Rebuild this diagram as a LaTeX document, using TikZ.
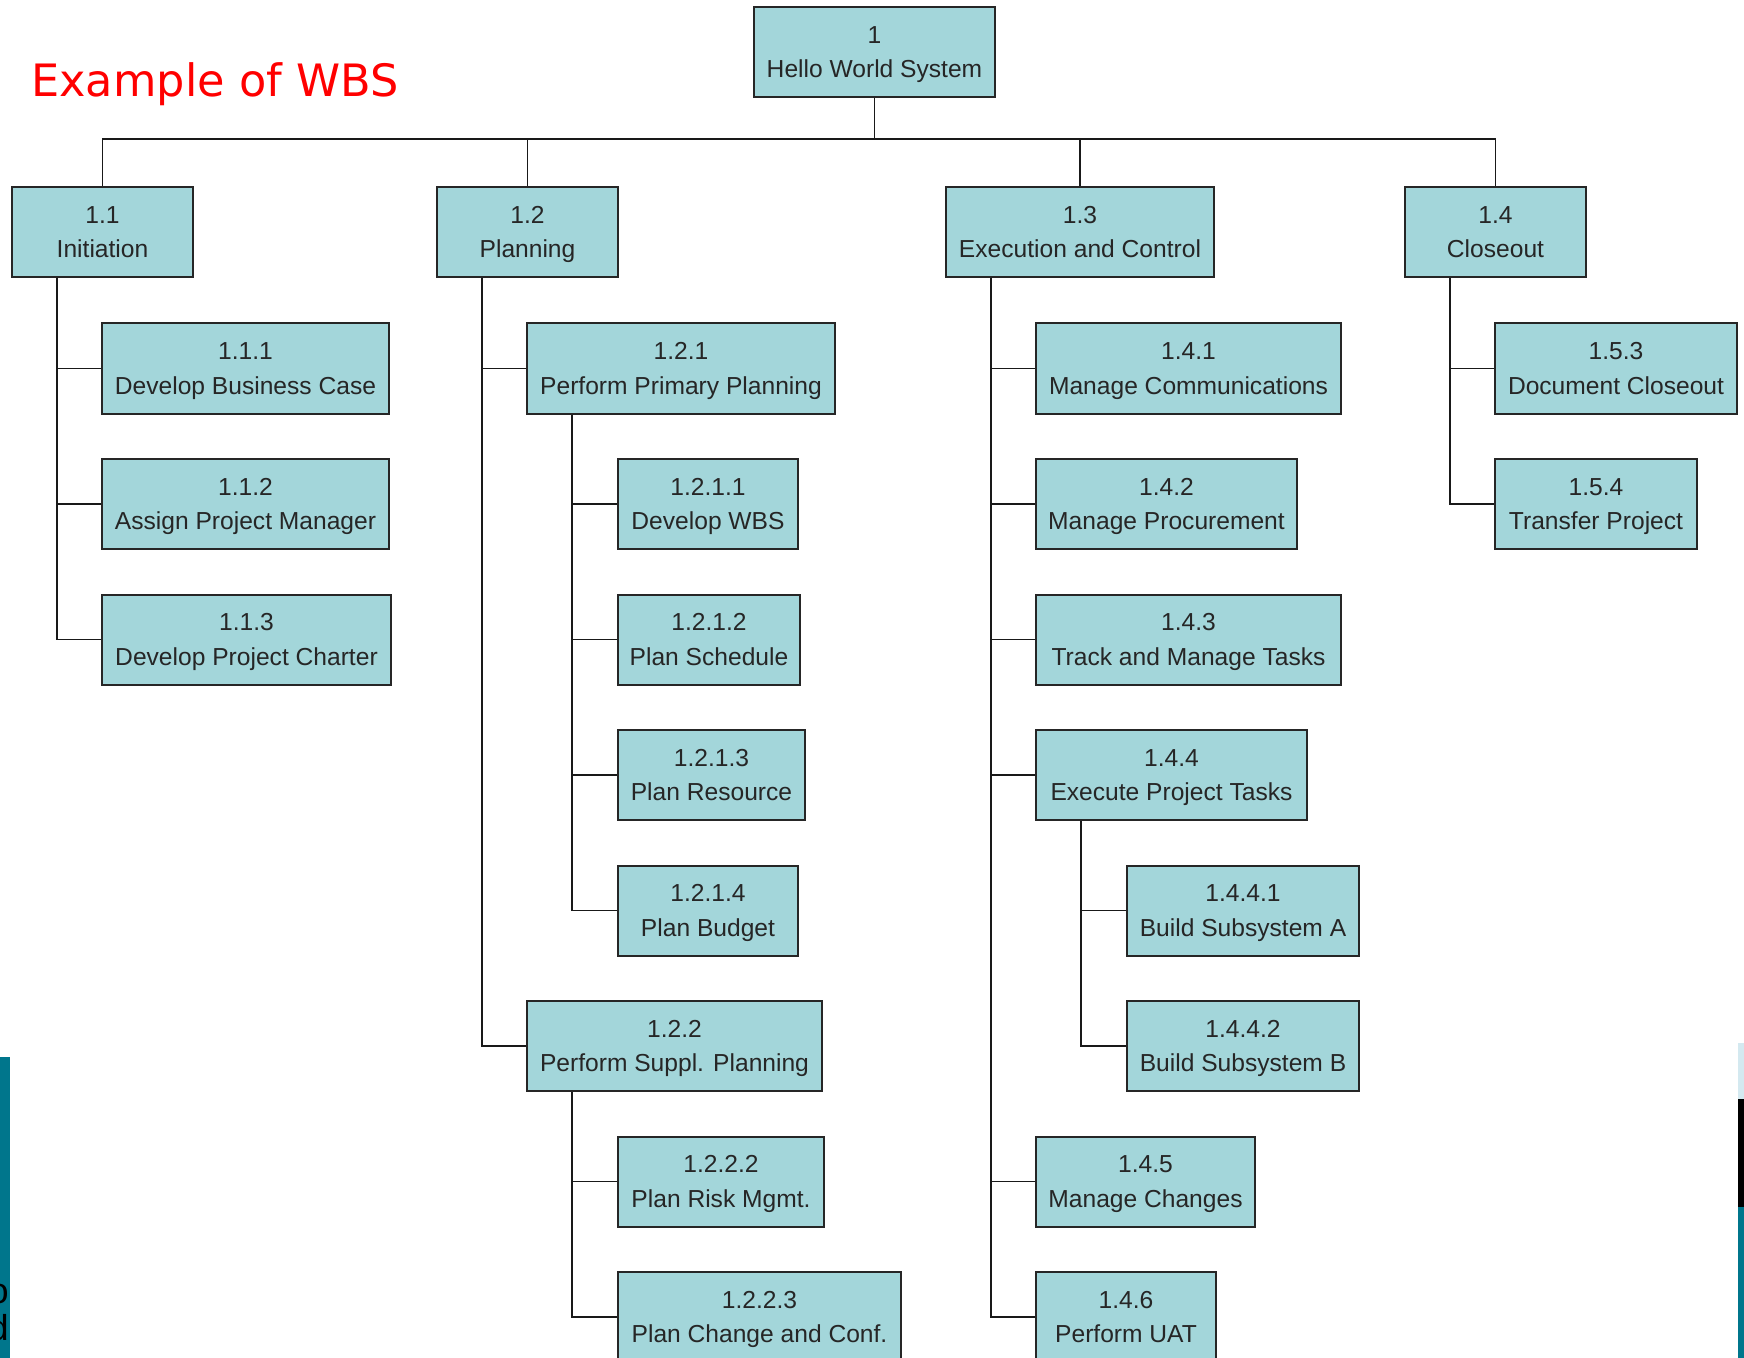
\documentclass[tikz,border=0pt]{standalone}
\usepackage{fontspec}
\setmainfont{Liberation Sans}
\newfontfamily\titlefont{DejaVu Sans}
\usepackage{xcolor}

\definecolor{boxfill}{RGB}{163,214,218}
\definecolor{slideteal}{RGB}{0,118,140}
\definecolor{slidesky}{RGB}{212,233,240}

\tikzset{
  wbs/.style={draw=black!85, line width=1pt, fill=boxfill, anchor=north west,
    minimum height=45pt, inner sep=0pt, align=center, text=black!85,
    font=\fontsize{12.3}{17.2}\selectfont, text depth=0pt},
  link/.style={draw=black!90, line width=0.8pt},
  cutletter/.style={anchor=base east, inner sep=0pt, font=\fontsize{18}{22}\selectfont}
}

\begin{document}
\begin{tikzpicture}[x=0.5pt,y=-0.5pt]
\useasboundingbox (0,0) rectangle (1744,1358);
\clip (0,0) rectangle (1744,1358);

% Slide edges
\fill[slideteal] (0,1057) rectangle (10,1358);
\node[cutletter] (edgeo) at (9,1303) {o};
\node[cutletter] (edged) at (9,1340) {d};
\fill[slidesky] (1738,1043) rectangle (1744,1099);
\fill[black] (1738,1099) rectangle (1744,1207);
\fill[slideteal] (1738,1207) rectangle (1744,1358);

% Title
\node[anchor=base west, inner sep=0pt, text=red, font=\titlefont\fontsize{22.3}{26}\selectfont] (title) at (31,97) {Example of WBS};

% Top levels
\node[wbs, minimum width=120.5pt] (root) at (753,6) {1\\Hello World System};
\node[wbs, minimum width=90.5pt] (n11) at (11,186) {1.1\\Initiation};
\node[wbs, minimum width=90.5pt] (n12) at (436,186) {1.2\\Planning};
\node[wbs, minimum width=134pt] (n13) at (945,186) {1.3\\Execution and Control};
\node[wbs, minimum width=90.5pt] (n14) at (1404,186) {1.4\\Closeout};

% Initiation
\node[wbs, minimum width=143.5pt] (n111) at (101,322.5) {1.1.1\\Develop Business Case};
\node[wbs, minimum width=143.5pt] (n112) at (101,458) {1.1.2\\Assign Project Manager};
\node[wbs, minimum width=144.5pt] (n113) at (101,593.5) {1.1.3\\Develop Project Charter};

% Planning
\node[wbs, minimum width=154pt] (n121) at (526,322.5) {1.2.1\\Perform Primary Planning};
\node[wbs, minimum width=90pt] (n1211) at (617,458) {1.2.1.1\\Develop WBS};
\node[wbs, minimum width=91pt] (n1212) at (617,593.5) {1.2.1.2\\Plan Schedule};
\node[wbs, minimum width=93.5pt] (n1213) at (617,729) {1.2.1.3\\Plan Resource};
\node[wbs, minimum width=90pt] (n1214) at (617,864.5) {1.2.1.4\\Plan Budget};
\node[wbs, minimum width=147.5pt] (n122) at (526,1000) {1.2.2\\Perform Suppl. Planning};
\node[wbs, minimum width=103pt] (n1222) at (617,1135.5) {1.2.2.2\\Plan Risk Mgmt.};
\node[wbs, minimum width=141.5pt] (n1223) at (617,1271) {1.2.2.3\\Plan Change and Conf.};

% Execution and Control
\node[wbs, minimum width=152.5pt] (n141) at (1035,322.5) {1.4.1\\Manage Communications};
\node[wbs, minimum width=130.5pt] (n142) at (1035,458) {1.4.2\\Manage Procurement};
\node[wbs, minimum width=152.5pt] (n143) at (1035,593.5) {1.4.3\\Track and Manage Tasks};
\node[wbs, minimum width=135.5pt] (n144) at (1035,729) {1.4.4\\Execute Project Tasks};
\node[wbs, minimum width=116pt] (n1441) at (1126,864.5) {1.4.4.1\\Build Subsystem A};
\node[wbs, minimum width=116pt] (n1442) at (1126,1000) {1.4.4.2\\Build Subsystem B};
\node[wbs, minimum width=109.5pt] (n145) at (1035,1135.5) {1.4.5\\Manage Changes};
\node[wbs, minimum width=90pt] (n146) at (1035,1271) {1.4.6\\Perform UAT};

% Closeout
\node[wbs, minimum width=121pt] (n153) at (1494,322.5) {1.5.3\\Document Closeout};
\node[wbs, minimum width=101pt] (n154) at (1494,458) {1.5.4\\Transfer Project};

% Bus from the root
\path (root.south) ++(0,41) coordinate (bus);
\draw[link] (root.south) -- (bus);
\draw[link] (bus) -| (n11.north);
\draw[link] (bus) -| (n12.north);
\draw[link] (bus) -| (n13.north);
\draw[link] (bus) -| (n14.north);

% Elbow links
\draw[link] ([xshift=23pt]n11.south west) |- (n111.west);
\draw[link] ([xshift=23pt]n11.south west) |- (n112.west);
\draw[link] ([xshift=23pt]n11.south west) |- (n113.west);

\draw[link] ([xshift=23pt]n12.south west) |- (n121.west);
\draw[link] ([xshift=23pt]n12.south west) |- (n122.west);
\draw[link] ([xshift=23pt]n121.south west) |- (n1211.west);
\draw[link] ([xshift=23pt]n121.south west) |- (n1212.west);
\draw[link] ([xshift=23pt]n121.south west) |- (n1213.west);
\draw[link] ([xshift=23pt]n121.south west) |- (n1214.west);
\draw[link] ([xshift=23pt]n122.south west) |- (n1222.west);
\draw[link] ([xshift=23pt]n122.south west) |- (n1223.west);

\draw[link] ([xshift=23pt]n13.south west) |- (n141.west);
\draw[link] ([xshift=23pt]n13.south west) |- (n142.west);
\draw[link] ([xshift=23pt]n13.south west) |- (n143.west);
\draw[link] ([xshift=23pt]n13.south west) |- (n144.west);
\draw[link] ([xshift=23pt]n13.south west) |- (n145.west);
\draw[link] ([xshift=23pt]n13.south west) |- (n146.west);
\draw[link] ([xshift=23pt]n144.south west) |- (n1441.west);
\draw[link] ([xshift=23pt]n144.south west) |- (n1442.west);

\draw[link] ([xshift=23pt]n14.south west) |- (n153.west);
\draw[link] ([xshift=23pt]n14.south west) |- (n154.west);
\end{tikzpicture}
\end{document}
